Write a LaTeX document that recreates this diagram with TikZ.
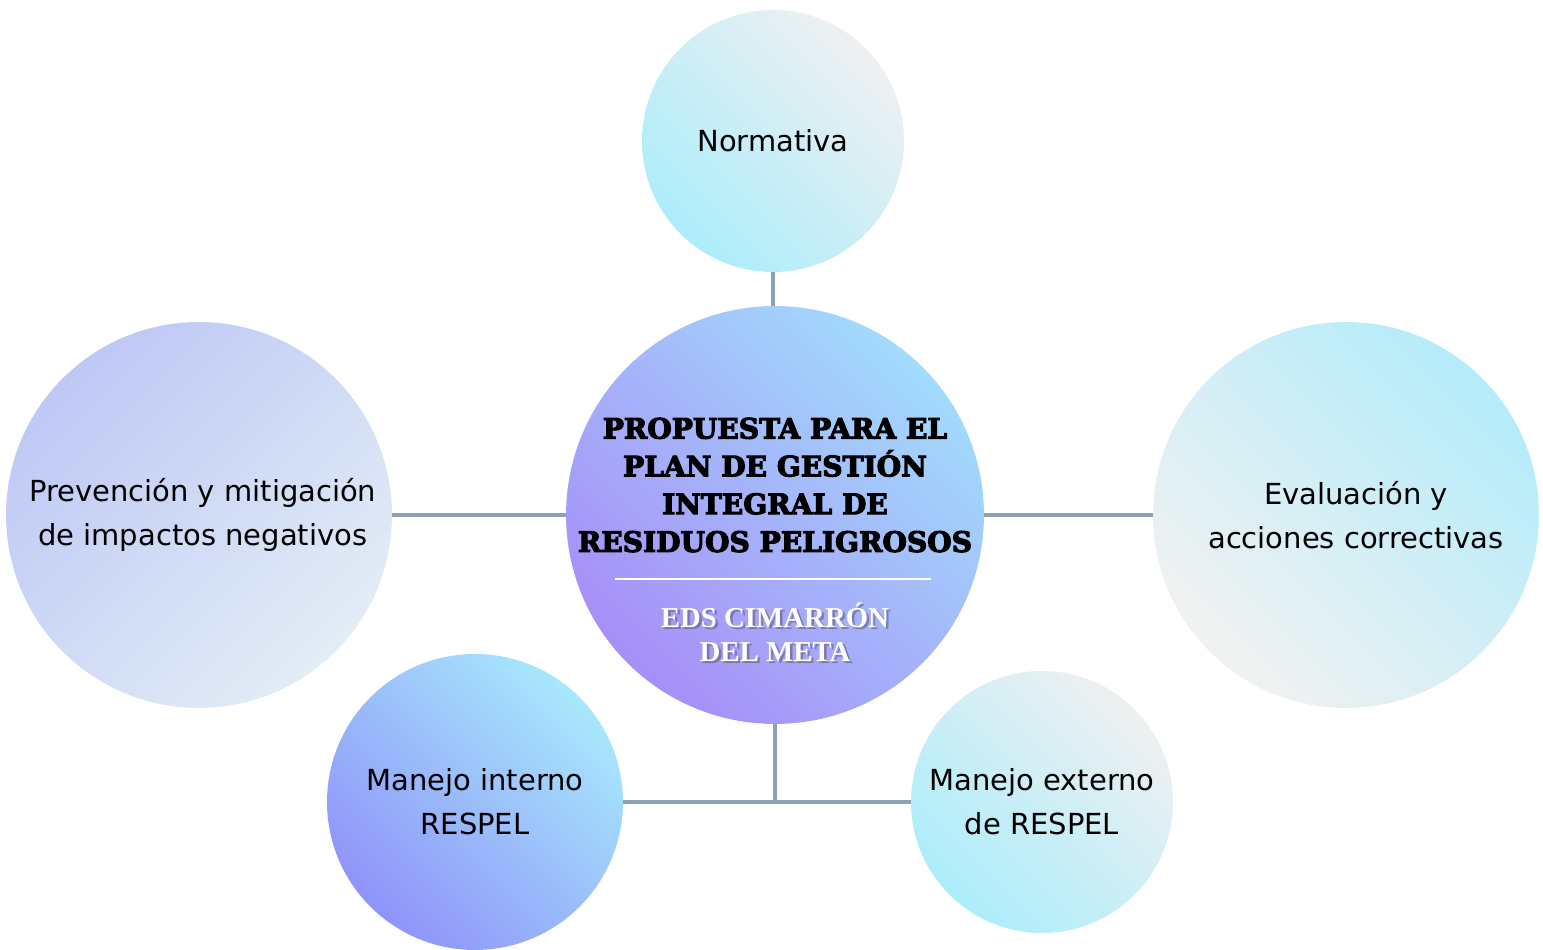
\documentclass[tikz,border=0pt]{standalone}
\usepackage{fontspec}
\setmainfont{DejaVu Sans}
\newfontfamily\titlefont[FakeBold=4]{DejaVu Serif Bold}
\newfontfamily\subfont{Liberation Serif}
\usepackage{tikz}
\usetikzlibrary{positioning}
\definecolor{linkgrey}{HTML}{8CA2B4}
\definecolor{cyanA}{HTML}{ACEDFB}
\definecolor{greyA}{HTML}{EEF0F1}
\definecolor{purpleA}{HTML}{A78EF8}
\definecolor{blueA}{HTML}{A2DBFC}
\definecolor{lavA}{HTML}{BEC8F5}
\definecolor{paleA}{HTML}{E2EDF6}
\definecolor{cyanB}{HTML}{B4ECFA}
\definecolor{greyB}{HTML}{F1F1F1}
\definecolor{violetB}{HTML}{8F94F9}
\definecolor{skyB}{HTML}{A7E8FC}
\definecolor{shadowgrey}{HTML}{5A5570}

\begin{document}
\begin{tikzpicture}[x=0.02cm,y=0.02cm]
    \tikzstyle{bubble}=[circle, inner sep=0pt, align=center, draw=none,
        font=\fontsize{16.5}{24.9}\selectfont]
\tikzstyle{link}=[draw=linkgrey, line width=2.2pt]
\tikzstyle{rise}=[shading angle=-45]
\useasboundingbox[fill=white] (0,0) rectangle (1543,950);
\node[bubble, minimum size=5.24cm, bottom color=cyanA, top color=greyA, rise]
    (norm) at (773,809) {Normativa};
\node[bubble, minimum size=8.36cm, bottom color=purpleA, top color=blueA, rise]
    (centre) at (775,435) {};
\node[bubble, minimum size=7.72cm, bottom color=paleA, top color=lavA, shading angle=45]
    (prev) at (199,435) {\hspace*{0.15cm}Prevención y mitigación\\\hspace*{0.15cm}de impactos negativos};
\node[bubble, minimum size=7.72cm, bottom color=greyB, top color=cyanB, rise]
    (eval) at (1346,435) {\hspace*{0.4cm}Evaluación y\\\hspace*{0.4cm}acciones correctivas};
\node[bubble, minimum size=5.92cm, bottom color=violetB, top color=skyB, rise]
    (interno) at (475,148) {Manejo interno\\RESPEL};
\node[bubble, minimum size=5.24cm, bottom color=cyanA, top color=greyA, rise]
    (externo) at (1042,148) {Manejo externo\\de RESPEL};
\node[align=center, font=\titlefont\fontsize{16}{21.5}\selectfont]
    (title) at (775,465) {PROPUESTA PARA EL\\PLAN DE GESTIÓN\\INTEGRAL DE\\RESIDUOS PELIGROSOS};
\node[align=center, text=shadowgrey, opacity=0.55, font=\subfont\bfseries\fontsize{16.4}{19.3}\selectfont]
    (subshadow) at (777.5,316) {EDS CIMARRÓN\\DEL META};
\node[align=center, text=white, font=\subfont\bfseries\fontsize{16.4}{19.3}\selectfont]
    (subtitle) at (775,318) {EDS CIMARRÓN\\DEL META};
\draw[white, line width=1.3pt] (615,371) -- (931,371);
\draw[link] (norm.south) -- (norm.south |- centre.north);
\draw[link] (prev.east) -- (centre.west);
\draw[link] (centre.east) -- (eval.west);
\draw[link] (centre.south) -- (centre.south |- interno.east);
\draw[link] (interno.east) -- (externo.west);
\end{tikzpicture}
\end{document}
